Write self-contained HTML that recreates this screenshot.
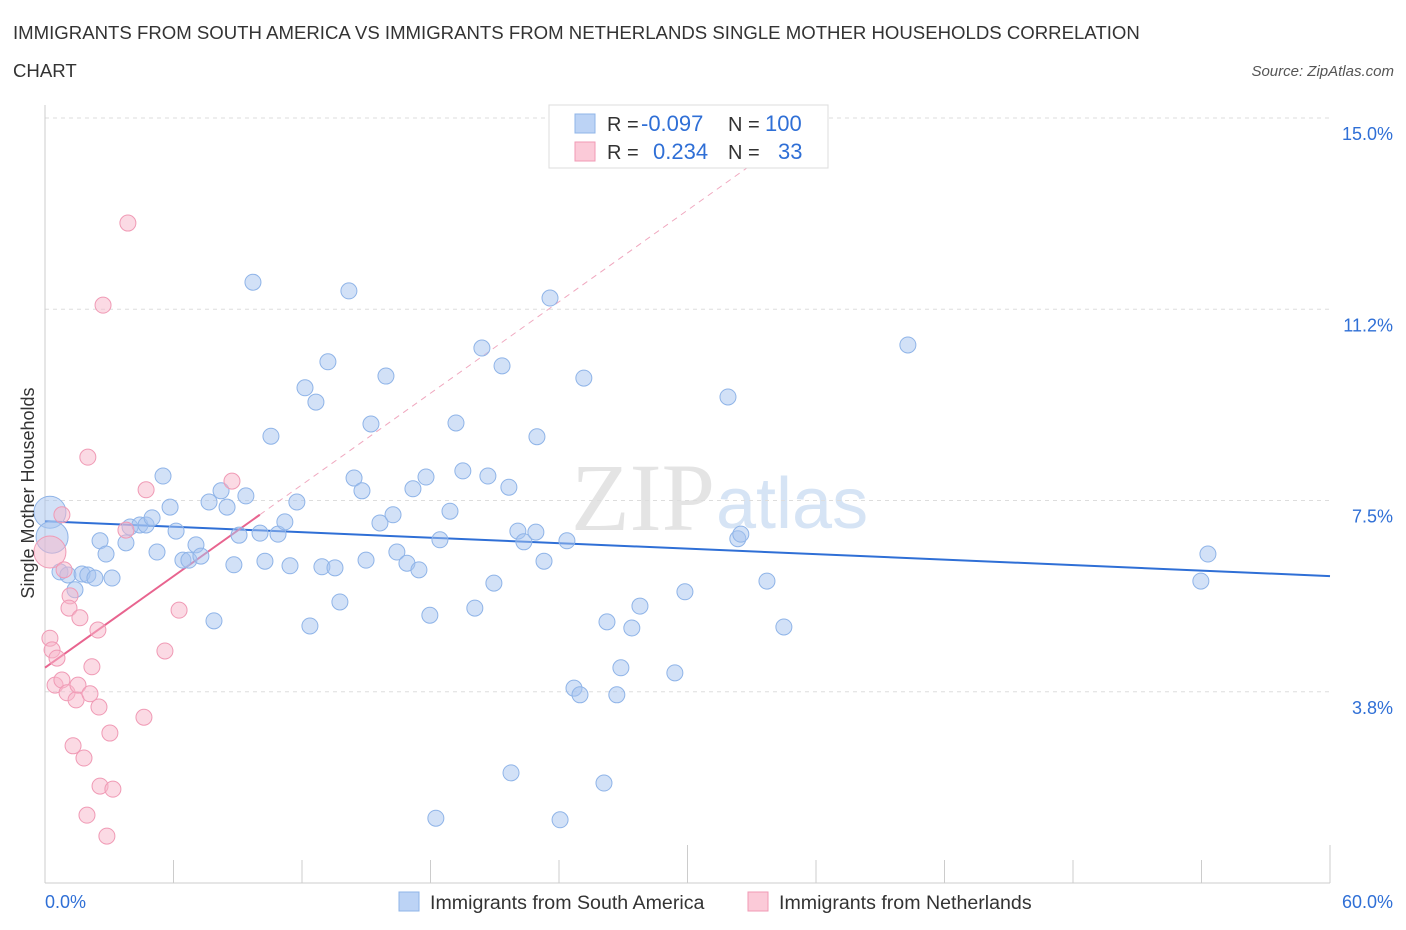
<!DOCTYPE html>
<html><head><meta charset="utf-8"><style>
body{margin:0;background:#fff;font-family:"Liberation Sans",sans-serif;}
svg{display:block}
</style></head><body>
<svg id="chart" width="1406" height="930" xmlns="http://www.w3.org/2000/svg">
<text x="13" y="39" font-size="18.6" fill="#333">IMMIGRANTS FROM SOUTH AMERICA VS IMMIGRANTS FROM NETHERLANDS SINGLE MOTHER HOUSEHOLDS CORRELATION</text>
<text x="13" y="77" font-size="18.6" fill="#333">CHART</text>
<text x="1394" y="76" font-size="15" fill="#555" font-style="italic" text-anchor="end">Source: ZipAtlas.com</text>
<text x="715" y="530" font-size="96" fill="#e4e4e4" font-family="Liberation Serif,serif" text-anchor="end">ZIP</text>
<text x="716" y="528" font-size="72" fill="#d6e4f5">atlas</text>
<g id="grid"></g><g id="axes"></g><g id="lines"></g><g id="pts"></g>
<g>
<rect x="549" y="105" width="279" height="63" fill="#fff" stroke="#ddd"/>
<rect x="575" y="114" width="20" height="19" fill="#bcd3f5" stroke="#8fb4e8"/>
<rect x="575" y="142" width="20" height="19" fill="#fbcad8" stroke="#f09ab5"/>
<text x="607" y="131" font-size="20" fill="#333">R =</text>
<text x="641" y="131" font-size="22" fill="#2f6fd6">-0.097</text>
<text x="728" y="131" font-size="20" fill="#333">N =</text>
<text x="765" y="131" font-size="22" fill="#2f6fd6">100</text>
<text x="607" y="159" font-size="20" fill="#333">R =</text>
<text x="653" y="159" font-size="22" fill="#2f6fd6">0.234</text>
<text x="728" y="159" font-size="20" fill="#333">N =</text>
<text x="778" y="159" font-size="22" fill="#2f6fd6">33</text>
</g>
<g>
<rect x="399" y="892" width="20" height="19" fill="#bcd3f5" stroke="#8fb4e8"/>
<text x="430" y="909" font-size="19.6" fill="#333">Immigrants from South America</text>
<rect x="748" y="892" width="20" height="19" fill="#fbcad8" stroke="#f09ab5"/>
<text x="779" y="909" font-size="19.6" fill="#333">Immigrants from Netherlands</text>
</g>
<text x="45" y="908" font-size="18" fill="#2f6fd6">0.0%</text>
<text x="1393" y="908" font-size="18" fill="#2f6fd6" text-anchor="end">60.0%</text>
<text transform="translate(34,493) rotate(-90)" font-size="18" fill="#333" text-anchor="middle">Single Mother Households</text>
</svg>
<script>
const blueX=[0.23,0.33,0.7,1.07,1.4,1.73,2.0,2.33,3.13,2.57,2.85,3.78,3.97,4.43,4.72,5.0,5.23,5.51,5.84,6.12,6.44,6.72,7.05,7.28,7.66,7.89,8.22,8.5,8.82,9.06,9.38,9.71,10.04,10.27,10.55,10.88,11.2,11.44,11.76,12.14,12.37,12.65,12.93,13.21,13.54,13.77,14.19,14.43,14.8,14.99,15.22,15.64,15.92,16.25,16.43,16.9,17.18,17.46,17.79,17.97,18.44,18.91,19.19,19.51,20.07,20.4,20.68,20.96,21.34,21.66,22.08,22.36,21.76,22.92,22.97,23.3,23.58,24.05,24.37,24.7,24.98,25.16,26.1,26.24,26.7,26.89,27.4,27.78,29.41,29.88,31.89,32.35,32.49,33.71,34.5,40.29,53.97,54.3,18.25];
const blueY=[7.27,6.78,6.1,6.04,5.75,6.06,6.04,5.98,5.98,6.71,6.45,6.67,6.98,7.02,7.02,7.16,6.49,7.98,7.37,6.9,6.33,6.33,6.63,6.41,7.47,5.14,7.69,7.37,6.24,6.82,7.59,11.78,6.86,6.31,8.76,6.84,7.08,6.22,7.47,9.71,5.04,9.43,6.2,10.22,6.18,5.51,11.61,7.94,7.69,6.33,9.0,7.06,9.94,7.22,6.49,6.27,7.73,6.14,7.96,5.25,6.73,7.29,9.02,8.08,5.39,10.49,7.98,5.88,10.14,7.76,6.9,6.69,2.16,6.88,8.75,6.31,11.47,1.24,6.71,3.82,3.69,9.9,1.96,5.12,3.69,4.22,5.0,5.43,4.12,5.71,9.53,6.75,6.84,5.92,5.02,10.55,5.92,6.45,1.27];
const pinkX=[0.23,0.79,0.89,1.17,1.12,1.63,0.23,0.33,0.56,0.47,0.79,1.03,1.45,1.54,2.19,2.1,2.47,2.52,2.0,2.71,3.03,3.87,4.72,4.62,1.31,1.82,2.57,3.17,1.96,2.89,5.6,6.26,8.73,3.78];
const pinkY=[6.49,7.22,6.14,5.63,5.39,5.2,4.8,4.57,4.41,3.88,3.98,3.73,3.59,3.88,4.24,3.71,4.96,3.45,8.35,11.33,2.94,12.94,7.71,3.25,2.69,2.45,1.9,1.84,1.33,0.92,4.55,5.35,7.88,6.92];
const yTicks=[3.75,7.5,11.25,15];
const yTickLabels=["3.8%","7.5%","11.2%","15.0%"];
const xTicks=[0,6,12,18,24,30,36,42,48,54,60];
const NS="http://www.w3.org/2000/svg";
const sx=v=>45+v/60*1285;
const sy=v=>883-v/3.75*191.25;
function mk(tag,attrs,parent){const e=document.createElementNS(NS,tag);for(const k in attrs)e.setAttribute(k,attrs[k]);document.getElementById(parent).appendChild(e);return e;}
yTicks.forEach((t,i)=>{
 const g=mk('line',{x1:45,x2:1330,y1:sy(t),y2:sy(t),stroke:'#ddd','stroke-dasharray':'4,4'},'grid');
 
 
 const l=mk('text',{x:1393,y:sy(t)+22,'font-size':18,fill:'#2f6fd6','text-anchor':'end'},'grid');
 l.textContent=yTickLabels[i];
 
 
});
const ax=mk('line',{x1:45,x2:45,y1:105,y2:883,stroke:'#ccc'},'axes');


const bx=mk('line',{x1:45,x2:1330,y1:883,y2:883,stroke:'#ccc'},'axes');


xTicks.forEach((t,i)=>{
 const tk=mk('line',{x1:sx(t),x2:sx(t),y1:883,y2:(i%5===0?845:860),stroke:'#ccc'},'axes');
 
 
});
function reg(X,Y){const n=X.length;let mx=0,my=0;for(let i=0;i<n;i++){mx+=X[i];my+=Y[i];}mx/=n;my/=n;let a=0,b=0;for(let i=0;i<n;i++){a+=(X[i]-mx)*(Y[i]-my);b+=(X[i]-mx)**2;}const s=a/b;return [s,my-s*mx];}
const [bs,bi]=reg(blueX,blueY);
const bl=mk('line',{x1:sx(0),y1:sy(bi),x2:sx(60),y2:sy(bi+bs*60),stroke:'#2f6fd6','stroke-width':2},'lines');


const [ps,pi]=reg(pinkX,pinkY);
const pmax=Math.max(...pinkX)+1.3;
let xEnd=Math.min(60,(14.3-pi)/ps);
const pd=mk('line',{x1:sx(pmax),y1:sy(pi+ps*pmax),x2:sx(xEnd),y2:sy(pi+ps*xEnd),stroke:'#f0a8bf','stroke-width':1,'stroke-dasharray':'6,5'},'lines');


const pl=mk('line',{x1:sx(0),y1:sy(pi),x2:sx(pmax),y2:sy(pi+ps*pmax),stroke:'#e8648f','stroke-width':2},'lines');


blueX.forEach((x,i)=>{
 const c=mk('circle',{cx:sx(x),cy:sy(blueY[i]),r:(i<2?16:8),fill:'rgba(165,196,240,0.5)',stroke:'#8fb4e8','stroke-width':1},'pts');
 
 
});
pinkX.forEach((x,i)=>{
 const c=mk('circle',{cx:sx(x),cy:sy(pinkY[i]),r:(i<1?16:8),fill:'rgba(248,182,202,0.5)',stroke:'#f09ab5','stroke-width':1},'pts');
 
 
});
</script>
</body></html>
